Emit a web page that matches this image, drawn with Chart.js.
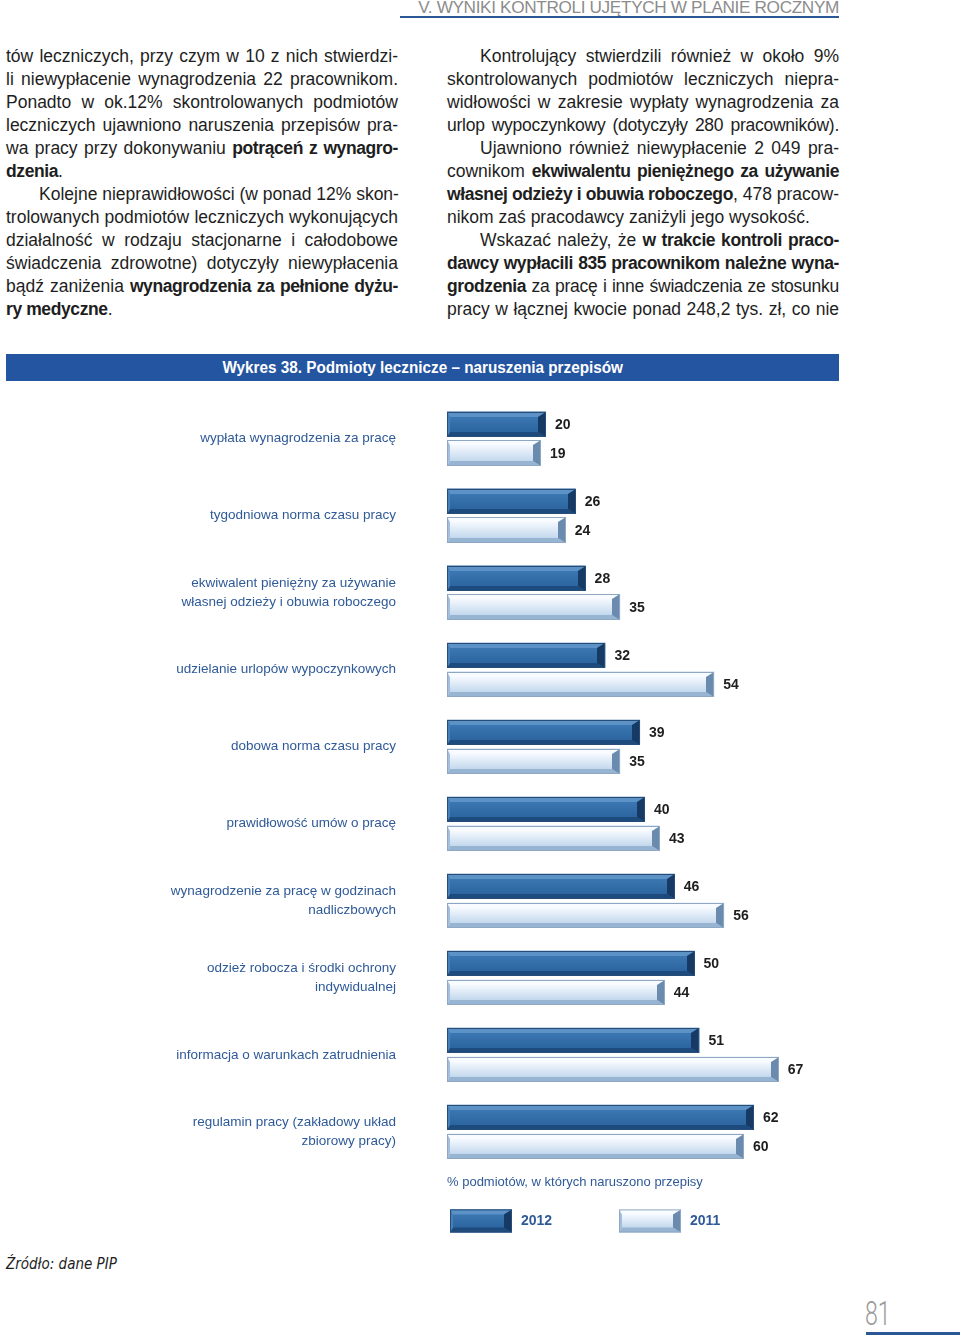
<!DOCTYPE html>
<html lang="pl">
<head>
<meta charset="UTF-8">
<title>Wykres 38</title>
<style>
    body {
        margin: 0;
        width: 960px;
        height: 1339px;
        position: relative;
        background: #fff;
        font-family: "Liberation Sans", Arial, sans-serif;
        color: #1e1e1e;
        overflow: hidden;
    }
    .head {
        position: absolute;
        left: 400px;
        top: -3px;
        width: 439px;
        text-align: right;
        font-size: 17.2px;
        color: #8c8c8c;
        letter-spacing: -0.35px;
    }
    .headline {
        position: absolute;
        left: 400px;
        top: 16px;
        width: 439px;
        height: 2px;
        background: #2b5797;
    }
    .col {
        position: absolute;
        top: 45px;
        width: 392px;
        font-size: 17.5px;
        line-height: 23px;
    }
    .col div { white-space: nowrap; }
    .col b { letter-spacing: -0.4px; }
    .col .j { text-align: justify; text-align-last: justify; }
    .col .i { padding-left: 33px; }
    .col .t { letter-spacing: -0.25px; }
    .bar-title {
        position: absolute;
        left: 6px;
        top: 354px;
        width: 833px;
        height: 27px;
        line-height: 27px;
        background: #2455a0;
        color: #fff;
        text-align: center;
        font-weight: bold;
        font-size: 16px;
    }
    .bar-title span {
        display: inline-block;
        transform: scaleX(0.955);
    }
    #wrap {
        position: absolute;
        left: 0;
        top: 390px;
        width: 848px;
        height: 860px;
    }
    .source {
        position: absolute;
        left: 6px;
        top: 1255px;
        font-family: "Liberation Sans Narrow", "DejaVu Sans Condensed", sans-serif;
        font-stretch: condensed;
        font-style: italic;
        font-size: 15px;
    }
    .pagenum {
        position: absolute;
        left: 865px;
        top: 1294px;
        font-family: Roboto, sans-serif;
        font-weight: 300;
        font-size: 33px;
        color: #9a9a9a;
        transform: scaleX(0.7);
        transform-origin: left top;
    }
    .pageline {
        position: absolute;
        left: 866px;
        top: 1332px;
        width: 94px;
        height: 3px;
        background: #2b5797;
    }
</style>
</head>
<body>
<div class="head">V. WYNIKI KONTROLI UJĘTYCH W PLANIE ROCZNYM</div>
<div class="headline"></div>

<div class="col" style="left:6px">
    <div class="j">tów leczniczych, przy czym w 10 z nich stwierdzi-</div>
    <div class="j">li niewypłacenie wynagrodzenia 22 pracownikom.</div>
    <div class="j">Ponadto w ok.12% skontrolowanych podmiotów</div>
    <div class="j">leczniczych ujawniono naruszenia przepisów pra-</div>
    <div class="j">wa pracy przy dokonywaniu <b>potrąceń z wynagro-</b></div>
    <div><b>dzenia</b>.</div>
    <div class="j i">Kolejne nieprawidłowości (w ponad 12% skon-</div>
    <div class="j">trolowanych podmiotów leczniczych wykonujących</div>
    <div class="j">działalność w rodzaju stacjonarne i całodobowe</div>
    <div class="j">świadczenia zdrowotne) dotyczyły niewypłacenia</div>
    <div class="j">bądź zaniżenia <b>wynagrodzenia za pełnione dyżu-</b></div>
    <div><b>ry medyczne</b>.</div>
</div>

<div class="col" style="left:447px">
    <div class="j i">Kontrolujący stwierdzili również w około 9%</div>
    <div class="j">skontrolowanych podmiotów leczniczych niepra-</div>
    <div class="j">widłowości w zakresie wypłaty wynagrodzenia za</div>
    <div class="j t">urlop wypoczynkowy (dotyczyły 280 pracowników).</div>
    <div class="j i">Ujawniono również niewypłacenie 2 049 pra-</div>
    <div class="j">cownikom <b>ekwiwalentu pieniężnego za używanie</b></div>
    <div class="j"><b>własnej odzieży i obuwia roboczego</b>, 478 pracow-</div>
    <div>nikom zaś pracodawcy zaniżyli jego wysokość.</div>
    <div class="j i">Wskazać należy, że <b>w trakcie kontroli praco-</b></div>
    <div class="j"><b>dawcy wypłacili 835 pracownikom należne wyna-</b></div>
    <div class="j t"><b>grodzenia</b> za pracę i inne świadczenia ze stosunku</div>
    <div class="j">pracy w łącznej kwocie ponad 248,2 tys. zł, co nie</div>
</div>

<div class="bar-title"><span>Wykres 38. Podmioty lecznicze – naruszenia przepisów</span></div>

<div id="wrap"><canvas id="chart"></canvas></div>

<div class="source">Źródło: dane PIP</div>
<div class="pagenum">81</div>
<div class="pageline"></div>

<script src="https://cdn.jsdelivr.net/npm/chart.js"></script>
<script>
    const categories = [
        'wypłata wynagrodzenia za pracę',
        'tygodniowa norma czasu pracy',
        ['ekwiwalent pieniężny za używanie', 'własnej odzieży i obuwia roboczego'],
        'udzielanie urlopów wypoczynkowych',
        'dobowa norma czasu pracy',
        'prawidłowość umów o pracę',
        ['wynagrodzenie za pracę w godzinach', 'nadliczbowych'],
        ['odzież robocza i środki ochrony', 'indywidualnej'],
        'informacja o warunkach zatrudnienia',
        ['regulamin pracy (zakładowy układ', 'zbiorowy pracy)']
    ];
    const seriesNames = ['2012', '2011'];
    const values2012 = [20, 26, 28, 32, 39, 40, 46, 50, 51, 62];
    const values2011 = [19, 24, 35, 54, 35, 43, 56, 44, 67, 60];
    const axisTitle = '% podmiotów, w których naruszono przepisy';

    const blue = '#2f5a98';

    // bevel palettes for the two series
    const palettes = [
        { faceTop: '#3b77b2', faceBot: '#2c65a0', top: '#5d92c6', bottom: '#1d4b7e', left: '#4580ba', right: '#163a63', line: '#264d78' },
        { faceTop: '#f5f9fe', faceBot: '#c3d8ed', top: '#f8fbff', bottom: '#97b4d2', left: '#a4bfdb', right: '#6a8bae', line: '#8ea7c2' }
    ];

    function bevelBar(ctx, x0, x1, y0, y1, p) {
        const b = 5, bl = 3, br = 8;
        const poly = (pts, col) => {
            ctx.beginPath();
            ctx.moveTo(pts[0][0], pts[0][1]);
            for (let k = 1; k < pts.length; k++) ctx.lineTo(pts[k][0], pts[k][1]);
            ctx.closePath();
            ctx.fillStyle = col;
            ctx.fill();
        };
        const g = ctx.createLinearGradient(0, y0 + b, 0, y1 - b);
        g.addColorStop(0, p.faceTop);
        g.addColorStop(1, p.faceBot);
        ctx.fillStyle = g;
        ctx.fillRect(x0, y0, x1 - x0, y1 - y0);
        poly([[x0, y0], [x1, y0], [x1 - br, y0 + b], [x0 + bl, y0 + b]], p.top);
        poly([[x0, y1], [x1, y1], [x1 - br, y1 - b], [x0 + bl, y1 - b]], p.bottom);
        poly([[x0, y0], [x0 + bl, y0 + b], [x0 + bl, y1 - b], [x0, y1]], p.left);
        poly([[x1, y0], [x1 - br, y0 + b], [x1 - br, y1 - b], [x1, y1]], p.right);
        ctx.strokeStyle = p.line;
        ctx.lineWidth = 1;
        ctx.strokeRect(x0 + 0.5, y0 + 0.5, x1 - x0 - 1, y1 - y0 - 1);
    }

    const bevelPlugin = {
        id: 'bevel',
        afterDatasetsDraw(chart) {
            const ctx = chart.ctx;
            ctx.save();
            chart.data.datasets.forEach((ds, di) => {
                const meta = chart.getDatasetMeta(di);
                meta.data.forEach((el, i) => {
                    const { x, y, base, height } = el.getProps(['x', 'y', 'base', 'height'], true);
                    bevelBar(ctx, Math.round(base), Math.round(x), Math.round(y - height / 2), Math.round(y + height / 2), palettes[di]);
                    ctx.fillStyle = '#1e1e1e';
                    ctx.font = 'bold 14px "Liberation Sans", Arial, sans-serif';
                    ctx.textAlign = 'left';
                    ctx.textBaseline = 'middle';
                    ctx.fillText(ds.data[i], x + 9, y + 1);
                });
            });
            // legend
            const area = chart.chartArea;
            const ly = area.bottom + 39;
            const offsets = [3, 172];
            seriesNames.forEach((name, di) => {
                const lx = area.left + offsets[di];
                bevelBar(ctx, lx, lx + 62, ly, ly + 23, palettes[di]);
                ctx.fillStyle = blue;
                ctx.font = 'bold 14px "Liberation Sans", Arial, sans-serif';
                ctx.textAlign = 'left';
                ctx.textBaseline = 'middle';
                ctx.fillText(name, lx + 71, ly + 12);
            });
            ctx.restore();
        }
    };

    new Chart(document.getElementById('chart'), {
        type: 'bar',
        data: {
            labels: categories,
            datasets: [
                { label: seriesNames[0], data: values2012, backgroundColor: palettes[0].faceBot, borderWidth: 0 },
                { label: seriesNames[1], data: values2011, backgroundColor: palettes[1].faceBot, borderWidth: 0 }
            ]
        },
        options: {
            indexAxis: 'y',
            responsive: true,
            maintainAspectRatio: false,
            animation: false,
            categoryPercentage: 0.75,
            barPercentage: 0.87,
            layout: { autoPadding: false, padding: { top: 10, bottom: 56, right: 0 } },
            plugins: {
                legend: { display: false },
                tooltip: { enabled: false }
            },
            scales: {
                y: {
                    grid: { display: false, drawTicks: false },
                    border: { display: false },
                    ticks: {
                        color: blue,
                        padding: 51,
                        font: { family: '"Liberation Sans", Arial, sans-serif', size: 13.5, lineHeight: 1.45 }
                    },
                    afterFit(scale) {
                        scale.width = 447;
                        scale.paddingTop = 0;
                        scale.paddingBottom = 0;
                    }
                },
                x: {
                    min: 0,
                    max: 81,
                    grid: { display: false, drawTicks: false },
                    border: { display: false },
                    ticks: { display: false },
                    title: {
                        display: true,
                        text: axisTitle,
                        align: 'start',
                        color: blue,
                        padding: { top: 4, bottom: 4 },
                        font: { family: '"Liberation Sans", Arial, sans-serif', size: 13 }
                    }
                }
            }
        },
        plugins: [bevelPlugin]
    });
</script>
</body>
</html>
